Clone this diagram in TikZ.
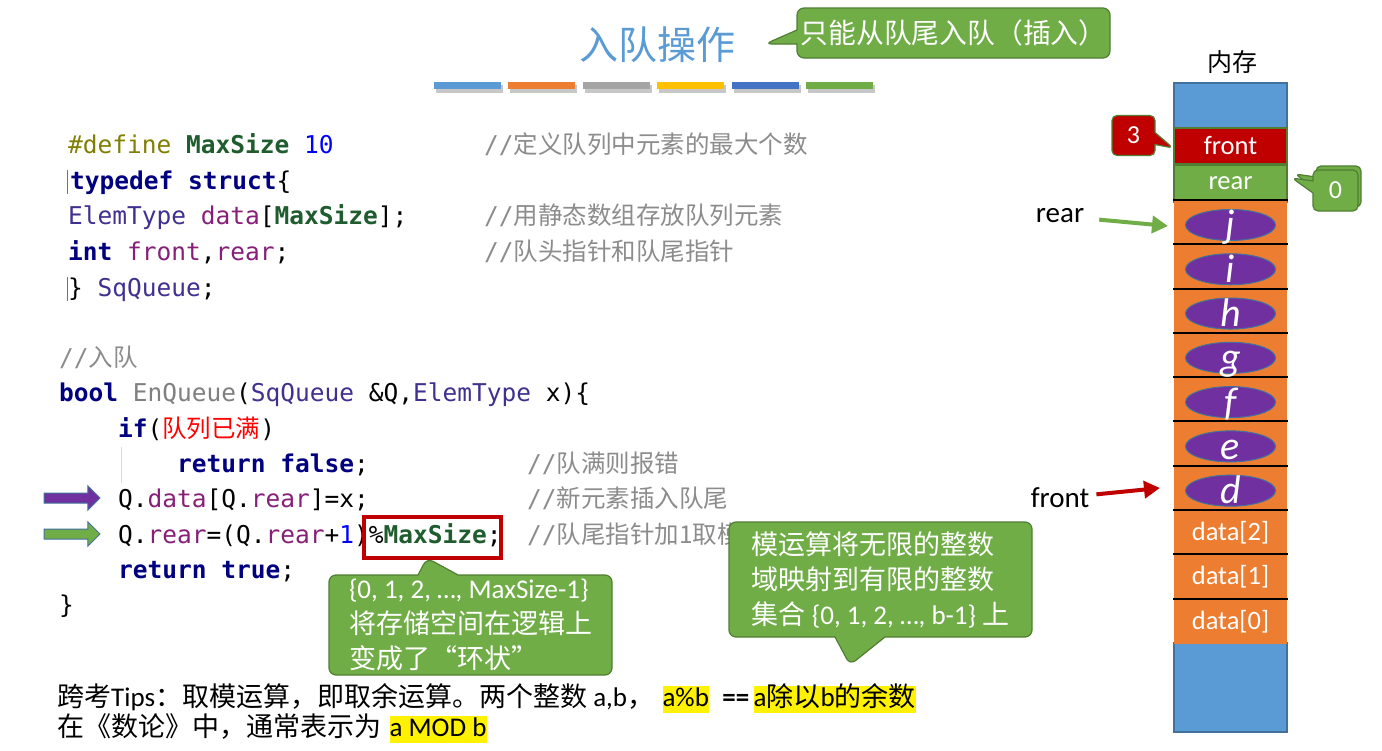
\documentclass[tikz,border=0pt]{standalone}
\usepackage{fontspec}
\setmainfont{Carlito}
\newfontfamily\codefont{DejaVu Sans Mono}
\newfontfamily\zh{Noto Sans CJK SC}
\newfontfamily\zhcode[Scale=1.0]{Noto Sans CJK SC}
\usetikzlibrary{shapes.geometric,shapes.arrows,shapes.callouts,shadows,arrows.meta}

\definecolor{pptblue}{HTML}{5B9BD5}
\definecolor{pptorange}{HTML}{ED7D31}
\definecolor{pptgray}{HTML}{A5A5A5}
\definecolor{pptgold}{HTML}{FFC000}
\definecolor{pptnavy}{HTML}{4472C4}
\definecolor{pptgreen}{HTML}{70AD47}
\definecolor{pptgreenline}{HTML}{507E32}
\definecolor{pptred}{HTML}{C00000}
\definecolor{pptpurple}{HTML}{7030A0}
\definecolor{pptedge}{HTML}{41719C}
\definecolor{kwcol}{HTML}{000080}
\definecolor{dircol}{HTML}{808000}
\definecolor{maccol}{HTML}{1F5C2E}
\definecolor{numcol}{HTML}{0000FF}
\definecolor{typcol}{HTML}{40308F}
\definecolor{varcol}{HTML}{871F78}
\definecolor{fncol}{HTML}{7F7F7F}
\definecolor{cmtcol}{HTML}{8C8C8C}

% code colouring
\newcommand{\ckw}[1]{{\bfseries\color{kwcol}#1}}
\newcommand{\cmac}[1]{{\bfseries\color{maccol}#1}}
\newcommand{\cvar}[1]{{\color{varcol}#1}}
\newcommand{\ctype}[1]{{\color{typcol}#1}}
\newcommand{\cnum}[1]{{\color{numcol}#1}}
\newcommand{\ccmt}[1]{{\color{cmtcol}//{\zhcode #1}}}

\tikzset{
  codeline/.style={anchor=base west, inner sep=0pt, text height=18pt, text depth=6pt,
    font=\fontsize{24.5}{30}\codefont},
  plaintext/.style={inner sep=0pt, font=\fontsize{27}{32}\selectfont},
  hlbox/.style={plaintext, fill=yellow, text height=20pt, text depth=7pt},
  memblock/.style={minimum width=113pt, inner sep=0pt, line width=1.5pt},
  memcell/.style={memblock, minimum height=44.28pt, fill=pptorange, text=white,
    font=\fontsize{26.5}{30}\selectfont},
  elemoval/.style={ellipse, fill=pptpurple, draw=pptedge, line width=1pt,
    minimum width=90pt, minimum height=31pt, inner sep=0pt},
  elemchar/.style={anchor=base, inner sep=0pt, text=white, font=\fontsize{40}{44}\selectfont\itshape},
  notebox/.style={rectangle callout, fill=pptgreen, draw=pptgreenline, line width=1.2pt,
    rounded corners=7pt, text=white, inner sep=0pt, font=\fontsize{27}{35}\selectfont},
  blockarrow/.style={single arrow, draw=pptedge, line width=1pt, minimum height=56pt,
    minimum width=24pt, inner sep=4.5pt, single arrow head indent=0pt},
  ptrarrow/.style={line width=4pt, -{Triangle[length=16pt,width=17pt]}},
}

\begin{document}
\begin{tikzpicture}[x=1pt,y=-1pt]

\useasboundingbox[fill=white] (0,0) rectangle (1382,750);

% ---------------- parameters ----------------
\pgfmathsetmacro{\MemX}{1230.5}   % centre of the memory column
\pgfmathsetmacro{\CellH}{44.28}   % height of one data cell
\pgfmathsetmacro{\BarW}{67}       % width of one title bar

% ---------------- title ----------------
\node (title) [font=\fontsize{39}{44}\zh, text=pptblue] at (657,45) {入队操作};
\node (onlyrear) [notebox, minimum width=313pt, minimum height=50pt, font=\fontsize{27.8}{30}\zh,
  callout absolute pointer={(765,44)}, callout pointer width=14pt] at (953.5,33) {只能从队尾入队（插入）};

\foreach \col [count=\i from 0] in {pptblue,pptorange,pptgray,pptgold,pptnavy,pptgreen} {
  \fill[black!22] ({436+74.4*\i},85) rectangle ++(\BarW,8);
  \fill[\col] ({434+74.4*\i},82) rectangle ++(\BarW,7);
}

% ---------------- struct definition ----------------
\node (def) [codeline] at (68,153) {\textcolor{dircol}{\#define} \cmac{MaxSize} \cnum{10}};
\node (tdef) [codeline] at (70,189) {\ckw{typedef} \ckw{struct}\{};
\node (fieldData) [codeline] at (68,224) {\ctype{ElemType} \cvar{data}[\cmac{MaxSize}];};
\node (fieldPtr) [codeline] at (68,260) {\ckw{int} \cvar{front},\cvar{rear};};
\node (tdefEnd) [codeline] at (68,296) {\} \ctype{SqQueue};};

\node (cmtDef) [codeline] at (484,153) {\ccmt{定义队列中元素的最大个数}};
\node (cmtData) [codeline] at (484,224) {\ccmt{用静态数组存放队列元素}};
\node (cmtPtr) [codeline] at (484,260) {\ccmt{队头指针和队尾指针}};

\draw[black!55, line width=0.8pt] (67,170) -- (67,194);
\draw[black!55, line width=0.8pt] (67,277) -- (67,301);

% ---------------- EnQueue ----------------
\node (cmtEnq) [codeline] at (59,366) {\ccmt{入队}};
\node (enqHead) [codeline] at (59,401) {\ckw{bool} \textcolor{fncol}{EnQueue}(\ctype{SqQueue} \&Q,\ctype{ElemType} x)\{};
\node (ifFull) [codeline] at (118,437) {\ckw{if}({\color{red}\zhcode 队列已满})};
\node (retFalse) [codeline] at (177,472) {\ckw{return} \ckw{false};};
\node (putElem) [codeline] at (118,507) {Q.\cvar{data}[Q.\cvar{rear}]=x;};
\node (moveRear) [codeline] at (118,543) {Q.\cvar{rear}=(Q.\cvar{rear}+\cnum{1})\%\cmac{MaxSize};};
\node (retTrue) [codeline] at (118,578) {\ckw{return} \ckw{true};};
\node (enqEnd) [codeline] at (59,613) {\}};

\node (cmtFull) [codeline] at (527,472) {\ccmt{队满则报错}};
\node (cmtPut) [codeline] at (527,507) {\ccmt{新元素插入队尾}};
\node (cmtMove) [codeline] at (527,543) {\ccmt{队尾指针加1取模}};

\draw[black!15, line width=1pt] (121,447) -- (121,483);

% step markers
\node (stepPut) [blockarrow, fill=pptpurple] at (69.5,498) {};
\node (stepMove) [blockarrow, fill=pptgreen] at (69.5,534) {};

\node (modbox) [draw=pptred, line width=3.5pt, minimum width=137pt, minimum height=41pt, inner sep=0pt] at (432.5,537.5) {};

% ---------------- remarks ----------------
\node (ringnote) [notebox, minimum width=283pt, minimum height=100pt, align=left,
  callout absolute pointer={(427,558)}, callout pointer width=40pt] at (470.5,625)
  {\{0, 1, 2, …, MaxSize-1\}\\ \zh 将存储空间在逻辑上\\ \zh 变成了“环状”};
\node (modnote) [notebox, minimum width=303pt, minimum height=115pt, align=left,
  callout absolute pointer={(850,665)}, callout pointer width=50pt] at (880.5,579.5)
  {{\zh 模运算将无限的整数}\\ {\zh 域映射到有限的整数}\\ {\zh 集合} \{0, 1, 2, …, b-1\} {\zh 上}};

% ---------------- tips ----------------
\node (tipsA) [plaintext, anchor=base west] at (57,706) {{\zh 跨考}Tips{\zh ：取模运算，即取余运算。两个整数} a,b{\zh ，}};
\node (hlA) [hlbox, anchor=base west] at ([xshift=8pt]tipsA.base east) {a\%b};
\node (eqsign) [plaintext, anchor=base west] at ([xshift=13pt]hlA.base east) {\textbf{==}};
\node (hlB) [hlbox, anchor=base west] at ([xshift=4pt]eqsign.base east) {a{\zh 除以}b{\zh 的余数}};
\node (tipsB) [plaintext, anchor=base west] at (57,736) {\zh 在《数论》中，通常表示为};
\node (hlC) [hlbox, anchor=base west] at ([xshift=8pt]tipsB.base east) {a MOD b};

% ---------------- memory column ----------------
\node (memlbl) [font=\fontsize{25}{30}\zh] at (1232,62) {内存};
\node (memtop) [memblock, minimum height=45pt, fill=pptblue, draw=pptedge] at (\MemX,105.5) {};
\node (membot) [memblock, minimum height=89pt, fill=pptblue, draw=pptedge] at (\MemX,687.5) {};
\node (frontcell) [memcell, minimum height=36pt, fill=pptred, draw=pptgreenline] at (\MemX,146) {front};
\node (rearcell) [memcell, minimum height=37pt, fill=pptgreen, draw=pptgreenline, line width=2pt] at (\MemX,183.5) {rear};

\foreach \k in {0,...,9}
  \node (cell\k) [memcell] at (\MemX,{621.5-\CellH*\k}) {\ifnum\k<3 data[\k]\fi};
\foreach \k in {0,...,9}
  \draw[black, line width=2pt] (cell\k.north west) -- (cell\k.north east);

\foreach \k/\ch in {3/d,4/e,5/f,6/g,7/h,8/i,9/j} {
  \node (elem\ch) [elemoval] at ([yshift=-2pt]cell\k.center) {};
  \node (glyph\ch) [elemchar] at ([yshift=-13pt]elem\ch.center) {\ch};
}

% pointers into the column
\node (rearlbl) [plaintext, font=\fontsize{29}{32}\selectfont] at (1060,216) {rear};
\coordinate (rearhit) at (1168,226);
\draw[ptrarrow, pptgreen, shorten <=15pt] (rearlbl) -- (rearhit);

\node (frontlbl) [plaintext, font=\fontsize{29}{32}\selectfont] at (1060,498) {front};
\coordinate (fronthit) at (1160,488);
\draw[ptrarrow, pptred, shorten <=7pt] (frontlbl) -- (fronthit);

% values of front and rear
\node (frontval) [notebox, fill=pptred, minimum width=43pt, minimum height=40pt, rounded corners=5pt,
  font=\fontsize{26}{30}\selectfont, callout absolute pointer={(1173,148)}, callout pointer width=12pt]
  at (1133.5,135.5) {3};
\node (rearval) [notebox, minimum width=45pt, minimum height=41pt, rounded corners=5pt,
  font=\fontsize{26}{30}\selectfont, callout absolute pointer={(1292,178)}, callout pointer width=12pt,
  copy shadow={shadow xshift=3pt, shadow yshift=4pt, fill=pptgreen, draw=pptgreenline, line width=1.2pt}]
  at (1335.5,190.5) {0};

\end{tikzpicture}
\end{document}
